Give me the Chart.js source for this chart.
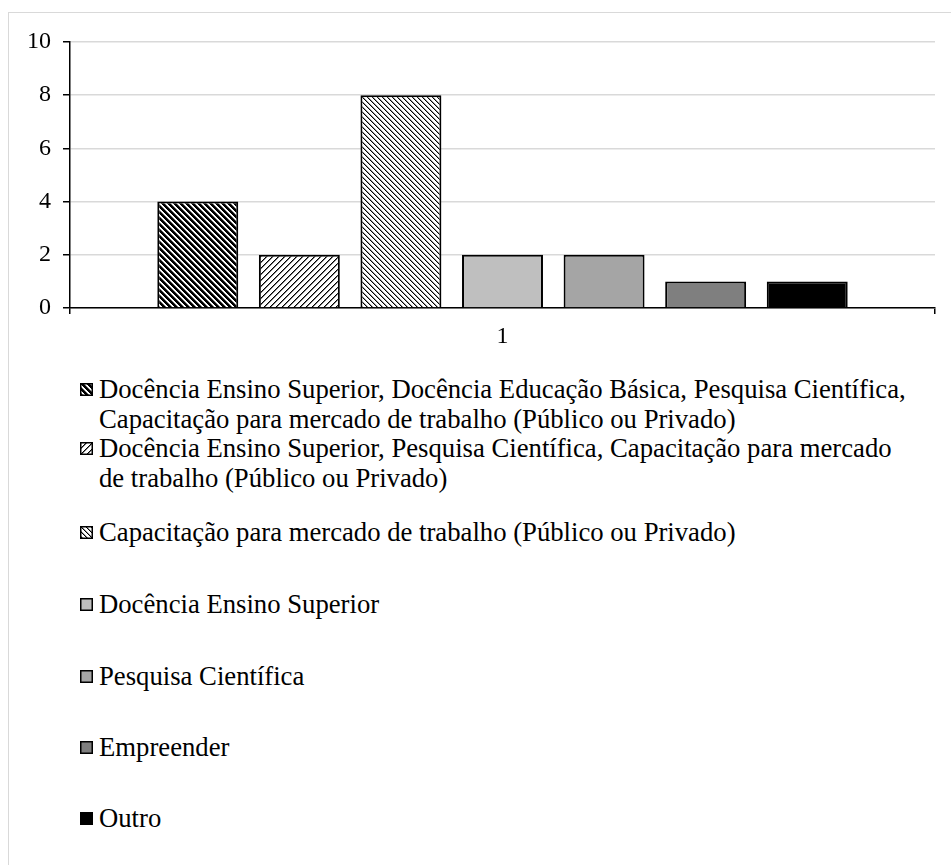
<!DOCTYPE html>
<html>
<head>
<meta charset="utf-8">
<script src="https://cdn.jsdelivr.net/npm/chart.js@4.4.1/dist/chart.umd.min.js"></script>
<style>
  html, body { margin: 0; padding: 0; background: #fff; }
  body { width: 951px; height: 865px; position: relative; overflow: hidden; font-family: 'Liberation Serif'; }
  #frame { position: absolute; left: 8px; top: 12px; width: 1200px; height: 1200px; border: 1.5px solid #d9d9d9; box-sizing: border-box; }
  #chart { position: absolute; left: 0; top: 0; }
  .item { position: absolute; left: 0; font-family: 'Liberation Serif'; font-size: 26.7px; line-height: 30px; color: #000; white-space: nowrap; }
  .item canvas { position: absolute; left: 80px; top: 9px; }
  .item span { position: absolute; left: 99px; top: 0; }
</style>
</head>
<body>
<div id="frame"></div>
<canvas id="chart" width="951" height="360"></canvas>
<div id="legend"></div>
<script>
// ---- data ----
const categories = ['1'];
const seriesLabels = [
  'Docência Ensino Superior, Docência Educação Básica, Pesquisa Científica,\nCapacitação para mercado de trabalho (Público ou Privado)',
  'Docência Ensino Superior, Pesquisa Científica, Capacitação para mercado\nde trabalho (Público ou Privado)',
  'Capacitação para mercado de trabalho (Público ou Privado)',
  'Docência Ensino Superior',
  'Pesquisa Científica',
  'Empreender',
  'Outro'
];
const seriesValues = [4, 2, 8, 2, 2, 1, 1];
const yTicks = [0, 2, 4, 6, 8, 10];

// ---- styles ----
function makePattern(kind) {
  const s = kind === 'light' ? 5 : 6;
  const c = document.createElement('canvas');
  c.width = s; c.height = s;
  const ctx = c.getContext('2d');
  const img = ctx.createImageData(s, s);
  for (let y = 0; y < s; y++) {
    for (let x = 0; x < s; x++) {
      let v = 255;
      if (kind === 'wide') {
        const k = ((x - y) % s + s) % s;
        v = k < 3 ? 0 : (k === 3 ? 110 : 255);
      } else if (kind === 'up') {
        const k = (x + y) % s;
        v = k === 0 ? 0 : (k === 1 ? 120 : 255);
      } else {
        const k = ((x - y) % s + s) % s;
        v = k === 0 ? 0 : (k === 1 ? 150 : 255);
      }
      const i = (y * s + x) * 4;
      img.data[i] = v; img.data[i + 1] = v; img.data[i + 2] = v; img.data[i + 3] = 255;
    }
  }
  ctx.putImageData(img, 0, 0);
  return c;
}
const fills = [
  makePattern('wide'),
  makePattern('up'),
  makePattern('light'),
  '#bfbfbf',
  '#a5a5a5',
  '#7f7f7f',
  '#000000'
];
function toFill(ctx, f) {
  return (typeof f === 'string') ? f : ctx.createPattern(f, 'repeat');
}

const chartCanvas = document.getElementById('chart');
const cctx = chartCanvas.getContext('2d');

const datasets = seriesLabels.map((lab, i) => ({
  label: lab,
  data: [seriesValues[i]],
  backgroundColor: toFill(cctx, fills[i]),
  borderColor: '#000',
  borderWidth: 2,
  categoryPercentage: 0.822,
  barPercentage: 0.797
}));

const font = { family: 'Liberation Serif', size: 24 };

new Chart(chartCanvas, {
  type: 'bar',
  data: { labels: categories, datasets },
  options: {
    responsive: false,
    animation: false,
    devicePixelRatio: 1,
    layout: { padding: { top: 42, right: 16, left: 0, bottom: 0 } },
    plugins: { legend: { display: false }, tooltip: { enabled: false } },
    scales: {
      x: {
        grid: { drawOnChartArea: false, color: '#000', tickLength: 6, lineWidth: 1.5 },
        border: { color: '#000', width: 1.5 },
        ticks: { color: '#000', font, padding: 8 },
        afterFit: (s) => { s.height = 52; }
      },
      y: {
        min: 0, max: 10,
        afterBuildTicks: (s) => { s.ticks = yTicks.map(v => ({ value: v })); },
        grid: { color: '#d9d9d9', lineWidth: 1.5, tickColor: '#000', tickLength: 7 },
        border: { color: '#000', width: 1.5 },
        ticks: { color: '#000', font, padding: 12 },
        afterFit: (s) => { s.width = 70; }
      }
    }
  }
});

// ---- HTML legend ----
const legendTops = [374, 433, 517, 589, 661, 732, 803];
const legend = document.getElementById('legend');
seriesLabels.forEach((lab, i) => {
  const d = document.createElement('div');
  d.className = 'item';
  d.style.top = legendTops[i] + 'px';
  const sw = document.createElement('canvas');
  sw.width = 13; sw.height = 13;
  const sctx = sw.getContext('2d');
  sctx.fillStyle = toFill(sctx, fills[i]);
  sctx.fillRect(0, 0, 13, 13);
  sctx.strokeStyle = '#000';
  sctx.lineWidth = 1.5;
  sctx.strokeRect(0.75, 0.75, 11.5, 11.5);
  d.appendChild(sw);
  const sp = document.createElement('span');
  lab.split('\n').forEach((line, j) => {
    if (j > 0) sp.appendChild(document.createElement('br'));
    sp.appendChild(document.createTextNode(line));
  });
  d.appendChild(sp);
  legend.appendChild(d);
});
</script>
</body>
</html>
